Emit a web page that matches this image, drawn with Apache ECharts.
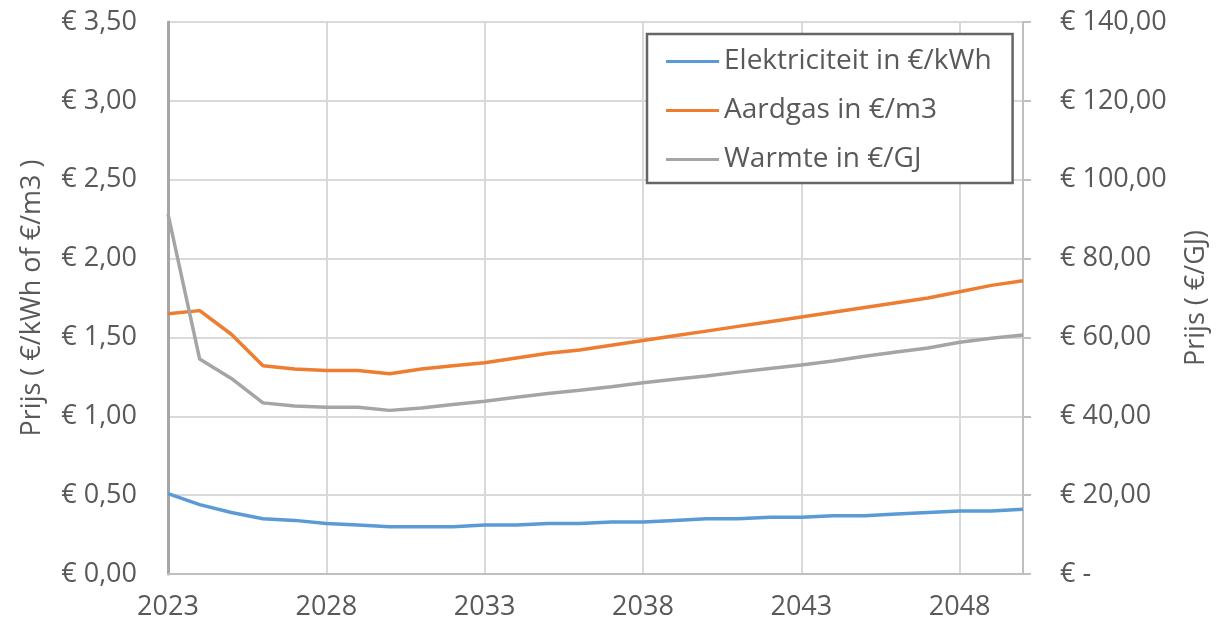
<!DOCTYPE html>
<html><head><meta charset="utf-8">
<script src="https://cdn.jsdelivr.net/npm/echarts@6/dist/echarts.min.js"></script>
<style>html,body{margin:0;padding:0;background:#fff}#c{width:1218px;height:632px}</style>
</head><body><div id="c"></div>
<script>
const years = [];
for (let y = 2023; y <= 2050; y++) years.push(String(y));
const elektriciteit = [0.51,0.44,0.39,0.35,0.34,0.32,0.31,0.30,0.30,0.30,0.31,0.31,0.32,0.32,0.33,0.33,0.34,0.35,0.35,0.36,0.36,0.37,0.37,0.38,0.39,0.40,0.40,0.41];
const aardgas = [1.65,1.67,1.52,1.32,1.30,1.29,1.29,1.27,1.30,1.32,1.34,1.37,1.40,1.42,1.45,1.48,1.51,1.54,1.57,1.60,1.63,1.66,1.69,1.72,1.75,1.79,1.83,1.86];
const warmte = [91.3,54.5,49.6,43.4,42.6,42.3,42.3,41.5,42.1,43.0,43.8,44.8,45.8,46.6,47.5,48.5,49.4,50.2,51.2,52.1,53.0,54.0,55.2,56.3,57.3,58.8,59.8,60.6];
const names = ['Elektriciteit in €/kWh','Aardgas in €/m3','Warmte in €/GJ'];

const txt = '#595959';
const font = '"Open Sans", "Noto Sans", sans-serif';
const fs = 27;
const fmt = v => '€ ' + v.toFixed(2).replace('.', ',');
const chart = echarts.init(document.getElementById('c'));
chart.setOption({
  animation: false,
  textStyle: { fontFamily: font },
  grid: { left: 168, right: 192, top: 22, bottom: 58, containLabel: false },
  legend: {
    orient: 'vertical', left: 647, top: 34,
    data: names,
    icon: 'rect', itemWidth: 53, itemHeight: 3, itemGap: 18,
    padding: [12, 21, 8, 19],
    borderColor: '#666', borderWidth: 2.5, backgroundColor: '#fff',
    textStyle: { color: txt, fontSize: 28, fontFamily: font, lineHeight: 31 }
  },
  xAxis: {
    type: 'category', data: years, boundaryGap: false,
    axisLine: { show: true, lineStyle: { color: '#bfbfbf', width: 2 } },
    axisTick: { show: false },
    axisLabel: { interval: 4, color: txt, fontSize: fs, margin: 20, fontFamily: font },
    splitLine: { show: true, interval: 4, lineStyle: { color: '#d9d9d9', width: 2 } }
  },
  yAxis: [
    {
      type: 'value', min: 0, max: 3.5, interval: 0.5, position: 'left',
      name: 'Prijs ( €/kWh of €/m3 )', nameLocation: 'middle', nameGap: 122,
      nameTextStyle: { color: txt, fontSize: fs, fontFamily: font },
      axisLine: { show: true, lineStyle: { color: '#a6a6a6', width: 3 } },
      axisTick: { show: false },
      axisLabel: { color: txt, fontSize: fs, margin: 31, formatter: v => fmt(v), fontFamily: font },
      splitLine: { show: true, lineStyle: { color: '#d9d9d9', width: 2 } }
    },
    {
      type: 'value', min: 0, max: 140, interval: 20, position: 'right',
      name: 'Prijs ( €/GJ)', nameLocation: 'middle', nameGap: 160, nameRotate: 90,
      nameTextStyle: { color: txt, fontSize: fs, fontFamily: font },
      axisLine: { show: true, lineStyle: { color: '#bfbfbf', width: 2 } },
      axisTick: { show: true, length: 8, lineStyle: { color: '#bfbfbf', width: 2 } },
      axisLabel: { color: txt, fontSize: fs, margin: 37, formatter: v => v === 0 ? '€ -' : fmt(v), fontFamily: font },
      splitLine: { show: false }
    }
  ],
  series: [
    { name: names[0], type: 'line', yAxisIndex: 0, data: elektriciteit, showSymbol: false, symbol: 'none', lineStyle: { width: 3.5, color: '#5B9BD5' }, itemStyle: { color: '#5B9BD5' } },
    { name: names[1], type: 'line', yAxisIndex: 0, data: aardgas, showSymbol: false, symbol: 'none', lineStyle: { width: 3.5, color: '#ED7D31' }, itemStyle: { color: '#ED7D31' } },
    { name: names[2], type: 'line', yAxisIndex: 1, data: warmte, showSymbol: false, symbol: 'none', lineStyle: { width: 3.5, color: '#A5A5A5' }, itemStyle: { color: '#A5A5A5' } }
  ]
});
</script></body></html>
